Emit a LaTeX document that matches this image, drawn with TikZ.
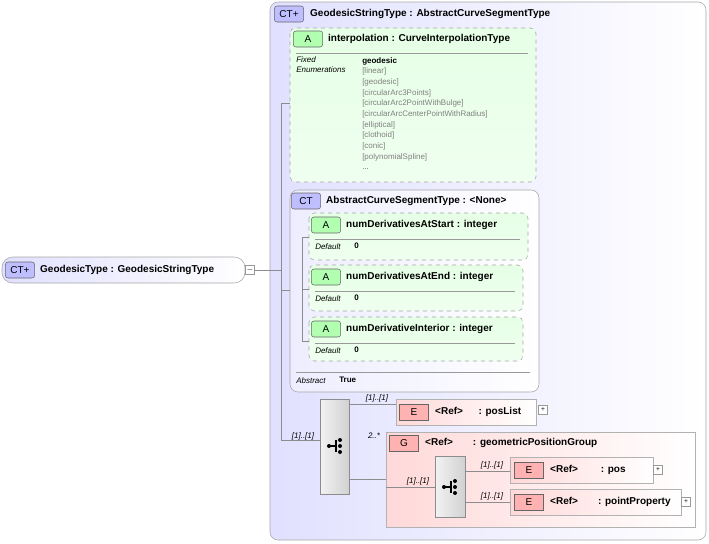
\documentclass[tikz,border=0pt]{standalone}
\usepackage{fontspec}
\setmainfont{Liberation Sans}
\usetikzlibrary{positioning}
\tikzset{>=latex}
\colorlet{ctcol}{blue!12!white}
\colorlet{attrcol}{green!10!white}
\colorlet{elcol}{red!10!white}
\tikzstyle{ctbox}=[draw=black!35,rounded corners=6,left color=ctcol,right color=white]
\tikzstyle{attrbox}=[draw=black!35,dashed,rounded corners=4,top color=attrcol,bottom color=green!6!white]
\tikzstyle{elbox}=[draw=black!30,left color=red!15!white,right color=white]
\tikzstyle{seqbox}=[draw=black!45,left color=black!5,right color=black!18]
\tikzstyle{badge}=[draw=black!60,rounded corners=2,inner sep=1,minimum width=22,minimum height=12,font=\fontsize{7.5}{7.5}\selectfont]
\tikzstyle{title}=[anchor=west,font=\fontsize{7.5}{8}\bfseries\selectfont,inner sep=0]
\tikzstyle{small}=[anchor=west,font=\fontsize{6}{6}\selectfont,inner sep=0]
\tikzstyle{card}=[font=\fontsize{6}{6}\itshape\selectfont,inner sep=1]
\tikzstyle{conn}=[black!45]
\tikzstyle{plusbox}=[draw=black!40,fill=white,minimum size=7,inner sep=0,font=\fontsize{5}{5}\selectfont]
\begin{document}
\begin{tikzpicture}[x=0.75pt,y=-0.75pt]
  \useasboundingbox (0,0) rectangle (709,543);

  % OUTER TYPE
  \draw[ctbox] (270,2) rectangle (706,540);
  \node[badge,fill=blue!25] (ctb) at (289,14) {CT+};
  \node[title,right=6 of ctb] {GeodesicStringType : AbstractCurveSegmentType};

  % LEFT TYPE
  \draw[ctbox,rounded corners=8] (2,257) rectangle (245,283);
  \node[badge,fill=blue!25] (lb) at (20,270) {CT+};
  \node[title,right=5 of lb] {GeodesicType : GeodesicStringType};
  \node[plusbox] (minus) at (250,270) {$-$};
  \coordinate (J) at (281,270);
  \draw[conn] (minus) -- (J);
  \draw[conn] (281,103) -- (281,440);
  \draw[conn] (281,103) -- (290,103);
  \draw[conn] (281,290) -- (290,290);

  % INTERPOLATION
  \draw[attrbox] (290,28) rectangle (536,182);
  \node[badge,fill=green!30] (ia) at (308,39) {A};
  \node[title,right=5 of ia] {interpolation : CurveInterpolationType};
  \draw[black!40] (296,53) -- (528,53);
  \node[small,anchor=north west,font=\fontsize{6}{7.5}\itshape\selectfont,align=left] at (296,56) {Fixed\\Enumerations};
  \node[small,font=\fontsize{6}{6}\bfseries\selectfont] at (362,61) {geodesic};
  \foreach \t [count=\i] in {[linear],[geodesic],[circularArc3Points],[circularArc2PointWithBulge],[circularArcCenterPointWithRadius],[elliptical],[clothoid],[conic],[polynomialSpline]}{
    \node[small,black!50] at (362,{61+\i*10.7}) {\t};
  }
  \node[small,black!60] at (362,169) {...};

  % ABSTRACT TYPE
  \draw[ctbox,left color=blue!7] (290,190) rectangle (539,392);
  \node[badge,fill=blue!25] (ab) at (306,201) {CT};
  \node[title,right=5 of ab] {AbstractCurveSegmentType : <None>};
  \draw[conn] (302,237) -- (302,342);
  \foreach \y/\h/\w/\n in {213/260/528/numDerivativesAtStart,265/311/523/numDerivativesAtEnd,317/361/523/numDerivativeInterior}{
    \draw[attrbox] (309,\y) rectangle (\w,\h);
    \draw[conn] (302,{\y+24}) -- (309,{\y+24});
    \node[badge,fill=green!30] (b\y) at (326,{\y+12}) {A};
    \node[title,right=5 of b\y] {{\n} : integer};
    \draw[black!40] (315,{\y+26}) -- ({\w-8},{\y+26});
    \node[card,anchor=west,inner sep=0] at (315,{\y+34}) {Default};
    \node[small,font=\fontsize{6}{6}\bfseries\selectfont] at (354,{\y+33}) {0};
  }
  \draw[black!40] (296,372) -- (530,372);
  \node[card,anchor=west,inner sep=0] at (296,381) {Abstract};
  \node[small,font=\fontsize{6}{6}\bfseries\selectfont] at (339,380) {True};

  % SEQUENCE
  \draw[seqbox] (320,399) rectangle (349,494);
  \node[card,above] at (303,442) {[1]..[1]};
  \draw[conn] (281,440) -- (320,440);
  \fill (329,446) circle (2);
  \draw[thick] (329,446) -- (336,446) (336,440) -- (336,452);
  \foreach \y in {440,446,452} \fill (340,\y) circle (2);

  % POSLIST
  \draw[elbox] (396,399) rectangle (536,425);
  \draw[conn] (349,404) -- (396,404);
  \node[card,above] at (377,404) {[1]..[1]};
  \node[badge,rounded corners=0,fill=red!30] (e1) at (414,412) {E};
  \node[title,right=6 of e1] {<Ref>\quad\ \ : posList};
  \node[plusbox] at (543,410) {+};

  % GROUP
  \draw[elbox] (386,432) rectangle (695,527);
  \draw[conn] (349,479) -- (386,479);
  \node[card] at (374,436) {2..*};
  \node[badge,rounded corners=0,fill=red!30] (g1) at (404,443) {G};
  \node[title,right=6 of g1] {<Ref>\qquad : geometricPositionGroup};
  \draw[seqbox] (435,456) rectangle (465,517);
  \draw[conn] (386,487) -- (435,487);
  \node[card,above] at (418,487) {[1]..[1]};
  \fill (444,487) circle (2);
  \draw[thick] (444,487) -- (451,487) (451,481) -- (451,493);
  \foreach \y in {481,487,493} \fill (455,\y) circle (2);

  % POS / POINTPROPERTY
  \draw[elbox] (510,457) rectangle (653,483);
  \draw[elbox] (510,489) rectangle (681,515);
  \draw[conn] (465,471) -- (510,471);
  \draw[conn] (465,502) -- (510,502);
  \node[card,above] at (492,471) {[1]..[1]};
  \node[card,above] at (492,502) {[1]..[1]};
  \node[badge,rounded corners=0,fill=red!30] (e2) at (529,470) {E};
  \node[title,right=6 of e2] {<Ref>\qquad\ : pos};
  \node[badge,rounded corners=0,fill=red!30] (e3) at (529,502) {E};
  \node[title,right=6 of e3] {<Ref>\qquad : pointProperty};
  \node[plusbox] at (658,470) {+};
  \node[plusbox] at (686,502) {+};
\end{tikzpicture}
\end{document}
